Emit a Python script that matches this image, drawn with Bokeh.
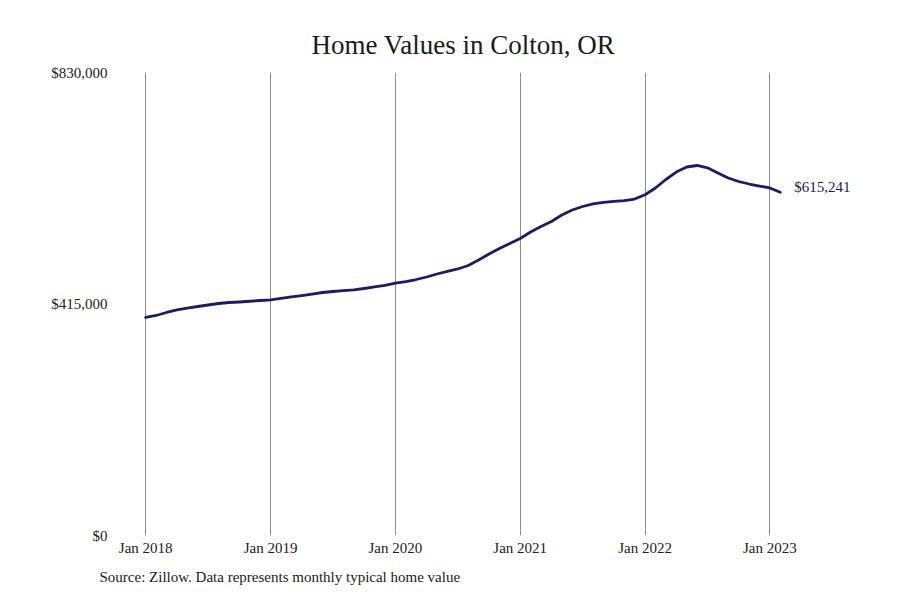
from bokeh.plotting import figure
from bokeh.models import FixedTicker, Range1d, ColumnDataSource, Title
from bokeh.core.properties import value
from bokeh.embed import file_html
from bokeh.resources import INLINE

# Monthly typical home values, Jan 2018 .. Feb 2023
values_2018 = [390800, 394400, 399800, 404300, 407800, 410500, 413200, 415900, 417700, 418600, 419900, 421300]
values_2019 = [422500, 424900, 427600, 430200, 432900, 435600, 437400, 438900, 440500, 442800, 445500, 448500]
values_2020 = [452300, 455300, 458900, 463400, 468800, 473300, 477800, 484000, 493900, 504600, 514500, 523500]
values_2021 = [532400, 544100, 553900, 562900, 574600, 583500, 589800, 594300, 597000, 598800, 600500, 603200]
values_2022 = [610800, 623000, 638200, 651600, 660600, 663300, 659200, 649900, 640900, 634600, 630100, 626500]
values_2023 = [623000, 615241]
home_values = values_2018 + values_2019 + values_2020 + values_2021 + values_2022 + values_2023
months = list(range(len(home_values)))  # months since Jan 2018

tick_months = [0, 12, 24, 36, 48, 60]
tick_labels = ["Jan 2018", "Jan 2019", "Jan 2020", "Jan 2021", "Jan 2022", "Jan 2023"]
y_ticks = [0, 415000, 830000]
y_labels = ["$0", "$415,000", "$830,000"]
end_label = "$615,241"
title_text = "Home Values in Colton, OR"
source_text = "Source: Zillow. Data represents monthly typical home value"

FONT = "Liberation Serif"

p = figure(frame_width=723, frame_height=463, output_backend="svg", toolbar_location=None,
           x_range=Range1d(-0.5, 69), y_range=Range1d(0, 830000),
           min_border_left=140, min_border_right=21, min_border_top=72, min_border_bottom=65)
p.outline_line_color = None
p.background_fill_color = "white"
p.border_fill_color = "white"

p.title = Title(text=title_text, align="left", offset=171, standoff=26,
                text_font=FONT, text_font_size="27px", text_font_style="normal",
                text_color="#1a1a1a")
p.add_layout(Title(text=source_text, align="left", offset=-41, standoff=17,
                   text_font=FONT, text_font_size="15px", text_font_style="normal",
                   text_color="#1a1a1a"), "below")

src = ColumnDataSource(dict(x=months, y=home_values))
p.line("x", "y", source=src, line_color="#1c1a6b", line_width=2.8, line_join="round", line_cap="round")

p.text(x=[months[-1]], y=[home_values[-1]], text=[end_label], x_offset=14, y_offset=-5,
       text_font=value(FONT), text_font_size="15px", text_color="#1c1c3c",
       text_baseline="middle", text_align="left")

# x axis
p.xaxis.ticker = FixedTicker(ticks=tick_months)
p.xaxis.major_label_overrides = {m: l for m, l in zip(tick_months, tick_labels)}
p.xaxis.axis_line_color = None
p.xaxis.major_tick_line_color = None
p.xaxis.minor_tick_line_color = None
p.xaxis.major_label_standoff = -2
p.xaxis.major_label_text_font = FONT
p.xaxis.major_label_text_font_size = "15px"
p.xaxis.major_label_text_color = "#222222"

# y axis
p.yaxis.ticker = FixedTicker(ticks=y_ticks)
p.yaxis.major_label_overrides = {t: l for t, l in zip(y_ticks, y_labels)}
p.yaxis.axis_line_color = None
p.yaxis.major_tick_line_color = None
p.yaxis.minor_tick_line_color = None
p.yaxis.major_label_standoff = 27
p.yaxis.major_label_text_font = FONT
p.yaxis.major_label_text_font_size = "15px"
p.yaxis.major_label_text_color = "#222222"

p.xgrid.ticker = FixedTicker(ticks=tick_months)
p.xgrid.grid_line_color = "#8c8c8c"
p.xgrid.grid_line_width = 1
p.ygrid.grid_line_color = None

open("out.html", "w").write(file_html(p, INLINE))
